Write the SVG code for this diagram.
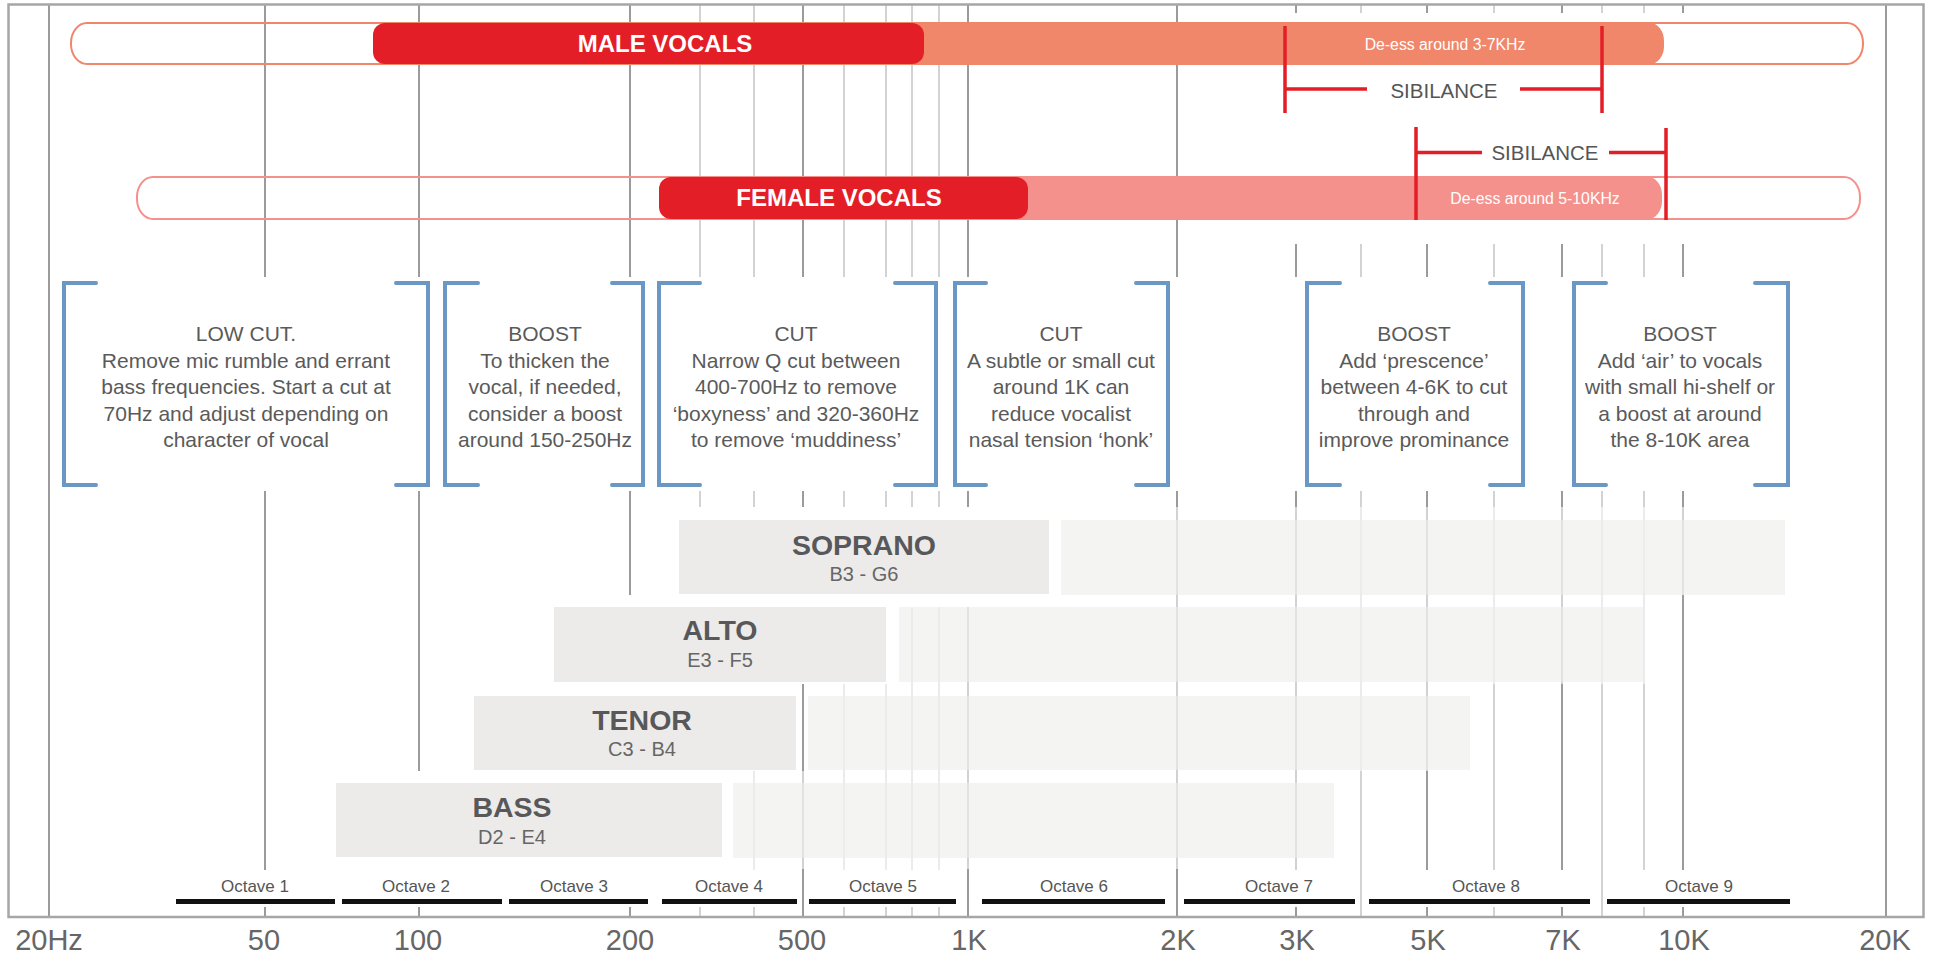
<svg xmlns="http://www.w3.org/2000/svg" width="1933" height="958" viewBox="0 0 1933 958">
<style>
.gd{stroke:#9b9b9b;stroke-width:2}
.gl{stroke:#d3d3d3;stroke-width:2}
.mask{fill:#fff}
.tmask{fill:#fff;fill-opacity:0.55}
.br{fill:none;stroke:#6a97c3;stroke-width:4;stroke-linecap:round;stroke-linejoin:miter}
.t{font-family:"Liberation Sans",Arial,sans-serif;text-anchor:middle}
.bt{font-size:21px;fill:#5a5a5a}
.sib{stroke:#e41e26;stroke-width:3.5;fill:none}
.sibt{font-size:20.5px;fill:#555}
.vl{font-size:24px;font-weight:bold;fill:#fff}
.de{font-size:15.8px;fill:#fff}
.vdark{fill:#ecebea}
.vlight{fill:#ededeb;fill-opacity:0.6}
.vn{font-size:28.5px;font-weight:bold;fill:#58585a}
.vr{font-size:20px;fill:#666}
.ob{fill:#111}
.ot{font-size:17px;fill:#555}
.ax{font-size:29px;fill:#666}
</style>
<rect width="1933" height="958" fill="#fff"/>
<g id="grid">
<line class="gl" x1="700" y1="5" x2="700" y2="917"/>
<line class="gl" x1="754" y1="5" x2="754" y2="917"/>
<line class="gl" x1="844" y1="5" x2="844" y2="917"/>
<line class="gl" x1="886" y1="5" x2="886" y2="917"/>
<line class="gl" x1="912" y1="5" x2="912" y2="917"/>
<line class="gl" x1="939" y1="5" x2="939" y2="917"/>
<line class="gl" x1="1361" y1="5" x2="1361" y2="917"/>
<line class="gl" x1="1494" y1="5" x2="1494" y2="917"/>
<line class="gl" x1="1602" y1="5" x2="1602" y2="917"/>
<line class="gl" x1="1644" y1="5" x2="1644" y2="917"/>
<line class="gd" x1="49" y1="5" x2="49" y2="917"/>
<line class="gd" x1="265" y1="5" x2="265" y2="917"/>
<line class="gd" x1="419" y1="5" x2="419" y2="917"/>
<line class="gd" x1="630" y1="5" x2="630" y2="917"/>
<line class="gd" x1="803" y1="5" x2="803" y2="917"/>
<line class="gd" x1="968" y1="5" x2="968" y2="917"/>
<line class="gd" x1="1177" y1="5" x2="1177" y2="917"/>
<line class="gd" x1="1296" y1="5" x2="1296" y2="917"/>
<line class="gd" x1="1427" y1="5" x2="1427" y2="917"/>
<line class="gd" x1="1562" y1="5" x2="1562" y2="917"/>
<line class="gd" x1="1683" y1="5" x2="1683" y2="917"/>
<line class="gd" x1="1886" y1="5" x2="1886" y2="917"/>
</g>
<g id="masks">
<rect class="mask" x="1190" y="13" width="685" height="231"/>
<rect class="mask" x="56" y="277" width="1822" height="214"/>
<rect class="mask" x="669" y="507" width="386" height="100"/>
<rect class="tmask" x="1055" y="507" width="740" height="88"/>
<rect class="mask" x="544" y="595" width="348" height="89"/>
<rect class="tmask" x="892" y="595" width="761" height="89"/>
<rect class="mask" x="464" y="684" width="336" height="87"/>
<rect class="tmask" x="806" y="684" width="674" height="87"/>
<rect class="mask" x="326" y="771" width="402" height="99"/>
<rect class="tmask" x="728" y="771" width="616" height="99"/>
<rect class="mask" x="56" y="870" width="1822" height="37"/>
<line class="gd" x1="803" y1="869" x2="803" y2="908"/>
<line class="gd" x1="968" y1="869" x2="968" y2="908"/>
<line class="gd" x1="1177" y1="869" x2="1177" y2="908"/>
<line class="gl" x1="1361" y1="869" x2="1361" y2="908"/>
<line class="gl" x1="1602" y1="869" x2="1602" y2="908"/>
</g>
<rect id="frame" x="8.5" y="4.5" width="1915" height="912.5" fill="none" stroke="#a6a6a6" stroke-width="2.5"/>
<g id="male-vocals">
<rect x="71" y="23" width="1792" height="41" rx="16" ry="20" fill="none" stroke="#f0866a" stroke-width="2"/>
<rect x="900" y="23" width="764" height="41" rx="14" ry="18" fill="#f0866a"/>
<rect x="373" y="23" width="551" height="41" rx="12" ry="12" fill="#e41e26"/>
<text class="t vl" x="665" y="52">MALE VOCALS</text>
<text class="t de" x="1445" y="50">De-ess around 3-7KHz</text>
</g>
<g id="female-vocals">
<rect x="137" y="177" width="1723" height="42" rx="16" ry="20" fill="none" stroke="#f4918d" stroke-width="2"/>
<rect x="1000" y="177" width="662" height="42" rx="14" ry="18" fill="#f4918d"/>
<rect x="659" y="177" width="369" height="42" rx="12" ry="12" fill="#e41e26"/>
<text class="t vl" x="839" y="205.5">FEMALE VOCALS</text>
<text class="t de" x="1535" y="204">De-ess around 5-10KHz</text>
</g>
<g id="sibilance-male">
<path class="sib" d="M1285 26V113M1602 26V113M1285 89H1367M1520 89H1602"/>
<text class="t sibt" x="1444" y="98">SIBILANCE</text>
</g>
<g id="sibilance-female">
<path class="sib" d="M1416 127V220M1666 128V220M1416 152.5H1482M1609 152.5H1666"/>
<text class="t sibt" x="1545" y="160">SIBILANCE</text>
</g>
<g id="low-cut">
<path class="br" d="M96 283H64V485H96M396 283H428V485H396"/>
<text class="t bt" x="246"><tspan x="246" y="341">LOW CUT.</tspan><tspan x="246" y="367.6">Remove mic rumble and errant</tspan><tspan x="246" y="394.2">bass frequencies. Start a cut at</tspan><tspan x="246" y="420.8">70Hz and adjust depending on</tspan><tspan x="246" y="447.4">character of vocal</tspan></text>
</g>
<g id="boost-low">
<path class="br" d="M478 283H445V485H478M612 283H643V485H612"/>
<text class="t bt" x="545"><tspan x="545" y="341">BOOST</tspan><tspan x="545" y="367.6">To thicken the</tspan><tspan x="545" y="394.2">vocal, if needed,</tspan><tspan x="545" y="420.8">consider a boost</tspan><tspan x="545" y="447.4">around 150-250Hz</tspan></text>
</g>
<g id="cut-mid">
<path class="br" d="M700 283H659V485H700M895 283H936V485H895"/>
<text class="t bt" x="796"><tspan x="796" y="341">CUT</tspan><tspan x="796" y="367.6">Narrow Q cut between</tspan><tspan x="796" y="394.2">400-700Hz to remove</tspan><tspan x="796" y="420.8">‘boxyness’ and 320-360Hz</tspan><tspan x="796" y="447.4">to remove ‘muddiness’</tspan></text>
</g>
<g id="cut-1k">
<path class="br" d="M986 283H955V485H986M1136 283H1168V485H1136"/>
<text class="t bt" x="1061"><tspan x="1061" y="341">CUT</tspan><tspan x="1061" y="367.6">A subtle or small cut</tspan><tspan x="1061" y="394.2">around 1K can</tspan><tspan x="1061" y="420.8">reduce vocalist</tspan><tspan x="1061" y="447.4">nasal tension ‘honk’</tspan></text>
</g>
<g id="boost-presence">
<path class="br" d="M1340 283H1307V485H1340M1490 283H1523V485H1490"/>
<text class="t bt" x="1414"><tspan x="1414" y="341">BOOST</tspan><tspan x="1414" y="367.6">Add ‘prescence’</tspan><tspan x="1414" y="394.2">between 4-6K to cut</tspan><tspan x="1414" y="420.8">through and</tspan><tspan x="1414" y="447.4">improve prominance</tspan></text>
</g>
<g id="boost-air">
<path class="br" d="M1606 283H1574V485H1606M1755 283H1788V485H1755"/>
<text class="t bt" x="1680"><tspan x="1680" y="341">BOOST</tspan><tspan x="1680" y="367.6">Add ‘air’ to vocals</tspan><tspan x="1680" y="394.2">with small hi-shelf or</tspan><tspan x="1680" y="420.8">a boost at around</tspan><tspan x="1680" y="447.4">the 8-10K area</tspan></text>
</g>
<g id="soprano">
<rect class="vdark" x="679" y="520" width="370" height="74"/>
<rect class="vlight" x="1061" y="520" width="724" height="75"/>
<text class="t vn" x="864" y="555">SOPRANO</text>
<text class="t vr" x="864" y="581">B3 - G6</text>
</g>
<g id="alto">
<rect class="vdark" x="554" y="607" width="332" height="75"/>
<rect class="vlight" x="899" y="607" width="744" height="75"/>
<text class="t vn" x="720" y="640">ALTO</text>
<text class="t vr" x="720" y="667">E3 - F5</text>
</g>
<g id="tenor">
<rect class="vdark" x="474" y="696" width="322" height="74"/>
<rect class="vlight" x="808" y="696" width="662" height="74"/>
<text class="t vn" x="642" y="730">TENOR</text>
<text class="t vr" x="642" y="756">C3 - B4</text>
</g>
<g id="bass">
<rect class="vdark" x="336" y="783" width="386" height="74"/>
<rect class="vlight" x="733" y="783" width="601" height="75"/>
<text class="t vn" x="512" y="817">BASS</text>
<text class="t vr" x="512" y="844">D2 - E4</text>
</g>
<g id="octaves">
<rect class="ob" x="176" y="899" width="159" height="5"/>
<rect class="ob" x="342" y="899" width="160" height="5"/>
<rect class="ob" x="509" y="899" width="139" height="5"/>
<rect class="ob" x="662" y="899" width="135" height="5"/>
<rect class="ob" x="809" y="899" width="147" height="5"/>
<rect class="ob" x="982" y="899" width="183" height="5"/>
<rect class="ob" x="1184" y="899" width="171" height="5"/>
<rect class="ob" x="1369" y="899" width="221" height="5"/>
<rect class="ob" x="1607" y="899" width="183" height="5"/>
<text class="t ot" x="255" y="892">Octave 1</text>
<text class="t ot" x="416" y="892">Octave 2</text>
<text class="t ot" x="574" y="892">Octave 3</text>
<text class="t ot" x="729" y="892">Octave 4</text>
<text class="t ot" x="883" y="892">Octave 5</text>
<text class="t ot" x="1074" y="892">Octave 6</text>
<text class="t ot" x="1279" y="892">Octave 7</text>
<text class="t ot" x="1486" y="892">Octave 8</text>
<text class="t ot" x="1699" y="892">Octave 9</text>
</g>
<g id="axis-labels">
<text class="t ax" x="49" y="950">20Hz</text>
<text class="t ax" x="264" y="950">50</text>
<text class="t ax" x="418" y="950">100</text>
<text class="t ax" x="630" y="950">200</text>
<text class="t ax" x="802" y="950">500</text>
<text class="t ax" x="969" y="950">1K</text>
<text class="t ax" x="1178" y="950">2K</text>
<text class="t ax" x="1297" y="950">3K</text>
<text class="t ax" x="1428" y="950">5K</text>
<text class="t ax" x="1563" y="950">7K</text>
<text class="t ax" x="1684" y="950">10K</text>
<text class="t ax" x="1885" y="950">20K</text>
</g>
</svg>
